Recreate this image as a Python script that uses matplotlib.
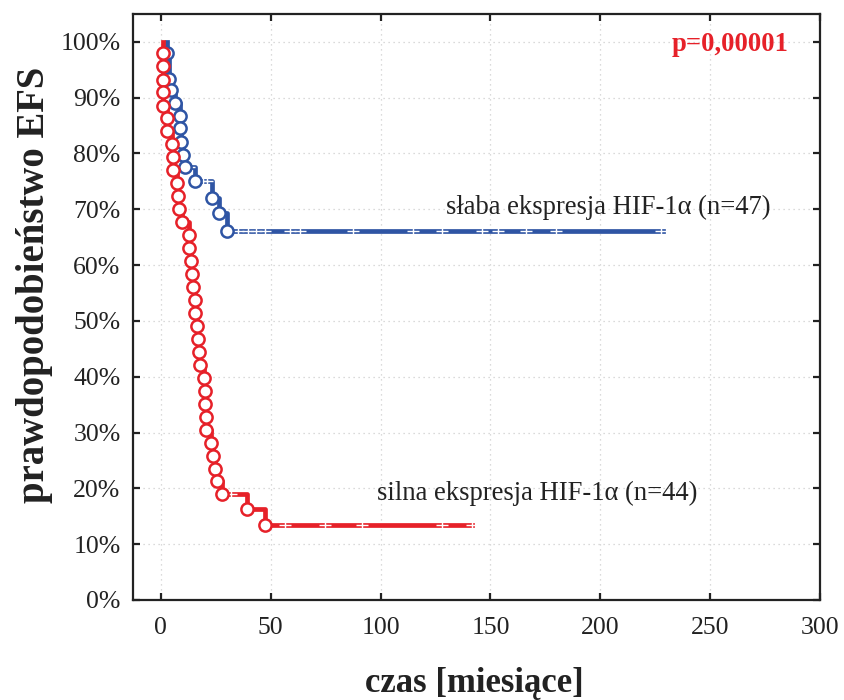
import matplotlib
matplotlib.use("Agg")
import matplotlib.pyplot as plt

plt.rcParams['font.family'] = ['Liberation Serif', 'DejaVu Serif']

# ---- dane (czas w miesiącach, przeżycie w %) ----
# słaba ekspresja HIF-1a (n=47)
blue_start = 2.9
blue_event_t = [2.9, 3.8, 4.7, 6.2, 8.6, 8.6, 9.2, 9.9, 10.9, 15.6, 23.2, 26.5, 30.2]
blue_event_s = [98.1, 93.3, 91.4, 89.1, 86.8, 84.5, 82.1, 79.7, 77.5, 75.0, 72.1, 69.3, 66.1]
blue_cens_t = [13.0, 19.0, 21.0, 35.0, 39.6, 43.2, 47.3, 58.7, 63.3, 87.4, 114.7,
               127.9, 146.1, 153.4, 166.1, 179.8, 227.6]
blue_end = 228.5

# silna ekspresja HIF-1a (n=44)
red_start = 0.8
red_event_t = [0.8, 0.8, 0.8, 1.0, 1.0, 2.6, 2.9, 5.0, 5.3, 5.6, 7.4, 7.7, 8.3, 9.6,
               12.6, 12.6, 13.8, 14.1, 14.4, 15.3, 15.6, 16.5, 16.8, 17.2, 17.8,
               19.6, 20.2, 20.2, 20.5, 20.5, 22.9, 23.5, 24.7, 25.4, 27.8, 39.0, 47.2]
red_event_s = [98.0, 95.6, 93.2, 91.0, 88.6, 86.3, 84.0, 81.7, 79.3, 77.1, 74.7, 72.3,
               70.0, 67.7, 65.4, 63.0, 60.7, 58.4, 56.0, 53.8, 51.4, 49.1, 46.8, 44.4,
               42.1, 39.8, 37.5, 35.1, 32.7, 30.5, 28.2, 25.8, 23.5, 21.3, 18.9, 16.3, 13.5]
red_cens_t = [32.0, 56.4, 74.6, 91.3, 127.8, 141.4]
red_end = 141.4

blue = "#2F55A4"
red = "#E62129"


def km_value(t, ev_t, ev_s):
    s = 100.0
    for ti, si in zip(ev_t, ev_s):
        if ti <= t:
            s = si
    return s


def draw_km(ax, start, ev_t, ev_s, cens_t, end, color):
    tt = [start] + ev_t + [end]
    ss = [100.0] + ev_s + [ev_s[-1]]
    ax.step(tt, [s / 100 for s in ss], where='post', color=color, lw=3.4, zorder=3)
    cs = [km_value(t, ev_t, ev_s) / 100 for t in cens_t]
    ax.plot(cens_t, cs, ls='none', marker='+', ms=9, mew=1.0, color='white', zorder=4)
    ax.plot(ev_t, [s / 100 for s in ev_s], ls='none', marker='o', ms=8.8, mew=1.8,
            mfc='white', mec=color, zorder=5)


fig = plt.figure(figsize=(8.44, 7), dpi=100)
ax = fig.add_axes([0.1576, 0.143, 0.814, 0.837])

draw_km(ax, blue_start, blue_event_t, blue_event_s, blue_cens_t, blue_end, blue)
draw_km(ax, red_start, red_event_t, red_event_s, red_cens_t, red_end, red)

ax.set_xlim(-12.7, 300)
ax.set_ylim(0, 1.05)
ax.set_xticks(range(0, 301, 50))
ax.set_yticks([i / 10 for i in range(11)])
ax.set_yticklabels([f"{i * 10}%" for i in range(11)])

ax.grid(True, ls=(0, (1, 3)), color='#cfcfcf', lw=0.9)
ax.set_axisbelow(True)
for sp in ax.spines.values():
    sp.set_linewidth(1.6)
    sp.set_color('#222222')
ax.tick_params(direction='in', top=True, right=True, length=5, width=1.6,
               labelsize=18.5, colors='#222222')
ax.tick_params(axis='x', pad=12)
ax.tick_params(axis='y', pad=9)

ax.text(129.7, 0.704, "słaba ekspresja HIF-1α (n=47)", fontsize=19.2,
        ha='left', va='center', color='#222222')
ax.text(98.3, 0.19, "silna ekspresja HIF-1α (n=44)", fontsize=19.2,
        ha='left', va='center', color='#222222')
ax.text(232.6, 0.995, "p=0,00001", fontsize=19.2, fontweight='bold',
        ha='left', va='center', color=red)

fig.text(0.041, 0.593, "prawdopodobieństwo EFS", rotation=90, fontsize=27.9,
         fontweight='bold', ha='center', va='center', color='#222222')
fig.text(0.562, 0.024, "czas [miesiące]", fontsize=25, fontweight='bold',
         ha='center', va='center', color='#222222')

fig.savefig("out.png", dpi=100)
